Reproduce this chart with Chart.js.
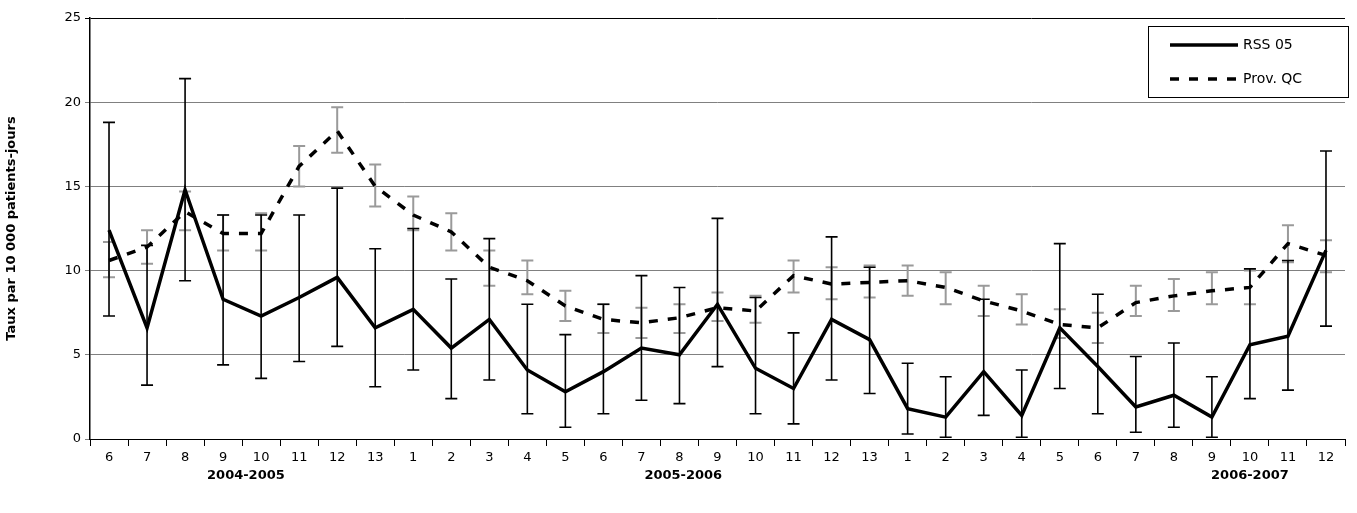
<!DOCTYPE html>
<html><head><meta charset="utf-8">
<script src="https://cdn.jsdelivr.net/npm/chart.js@4"></script>
<style>html,body{margin:0;padding:0;background:#fff}#w{width:1357px;height:513px}</style>
</head><body><div id="w"><canvas id="c"></canvas></div>
<script>
const categories = ['6','7','8','9','10','11','12','13','1','2','3','4','5','6','7','8','9','10','11','12','13','1','2','3','4','5','6','7','8','9','10','11','12'];
const yearLabels = ['2004-2005','2005-2006','2006-2007'];
const yearCenters = [3.6, 15.1, 30.0];
const rssValues = [12.4,6.6,14.8,8.3,7.3,8.4,9.6,6.6,7.7,5.4,7.1,4.1,2.8,4.0,5.4,5.0,8.0,4.2,3.0,7.1,5.9,1.8,1.3,4.0,1.4,6.6,4.3,1.9,2.6,1.3,5.6,6.1,11.2];
const rssLow = [7.3,3.2,9.4,4.4,3.6,4.6,5.5,3.1,4.1,2.4,3.5,1.5,0.7,1.5,2.3,2.1,4.3,1.5,0.9,3.5,2.7,0.3,0.1,1.4,0.1,3.0,1.5,0.4,0.7,0.1,2.4,2.9,6.7];
const rssHigh = [18.8,11.5,21.4,13.3,13.3,13.3,14.9,11.3,12.5,9.5,11.9,8.0,6.2,8.0,9.7,9.0,13.1,8.4,6.3,12.0,10.2,4.5,3.7,8.3,4.1,11.6,8.6,4.9,5.7,3.7,10.1,10.6,17.1];
const qcValues = [10.6,11.4,13.5,12.2,12.2,16.2,18.3,15.0,13.3,12.3,10.2,9.4,7.9,7.1,6.9,7.2,7.8,7.6,9.7,9.2,9.3,9.4,9.0,8.2,7.6,6.8,6.6,8.1,8.5,8.8,9.0,11.6,10.9];
const qcLow = [9.6,10.4,12.4,11.2,11.2,15.0,17.0,13.8,12.4,11.2,9.1,8.6,7.0,6.3,6.0,6.3,7.0,6.9,8.7,8.3,8.4,8.5,8.0,7.3,6.8,6.0,5.7,7.3,7.6,8.0,8.0,10.5,9.9];
const qcHigh = [11.7,12.4,14.7,13.3,13.4,17.4,19.7,16.3,14.4,13.4,11.2,10.6,8.8,8.0,7.8,8.0,8.7,8.5,10.6,10.2,10.3,10.3,9.9,9.1,8.6,7.7,7.5,9.1,9.5,9.9,10.0,12.7,11.8];
const yTicks = [0,5,10,15,20,25];

const FONT = '"DejaVu Sans", Lato, sans-serif';

const errPlugin = {
  id:'err',
  beforeDatasetsDraw(chart){
    const {ctx, scales:{x,y}} = chart;
    const sets = [[qcLow,qcHigh,'#9a9a9a',2],[rssLow,rssHigh,'#000',1.6]];
    ctx.save();
    for (const [lo,hi,col,w] of sets){
      ctx.strokeStyle=col; ctx.lineWidth=w;
      for (let i=0;i<lo.length;i++){
        const px=x.getPixelForValue(i), a=y.getPixelForValue(lo[i]), b=y.getPixelForValue(hi[i]);
        ctx.beginPath();
        ctx.moveTo(px,a);ctx.lineTo(px,b);
        ctx.moveTo(px-6,a);ctx.lineTo(px+6,a);
        ctx.moveTo(px-6,b);ctx.lineTo(px+6,b);
        ctx.stroke();
      }
    }
    ctx.restore();
  },
  afterDraw(chart){
    const {ctx, scales:{x,y}} = chart;
    ctx.save();
    ctx.font='bold 13px '+FONT; ctx.fillStyle='#000'; ctx.textAlign='center'; ctx.textBaseline='middle';
    yearLabels.forEach((t,k)=>ctx.fillText(t, x.getPixelForValue(yearCenters[k]), 476));
    const lx=1148, ly=26, lw=200, lh=71;
    ctx.fillStyle='#fff'; ctx.fillRect(lx,ly,lw,lh);
    ctx.strokeStyle='#000'; ctx.lineWidth=1; ctx.strokeRect(lx+0.5,ly+0.5,lw,lh);
    ctx.font='14px '+FONT; ctx.textAlign='left';
    chart.data.datasets.forEach((d,k)=>{
      const yy = ly+19+k*34;
      ctx.strokeStyle='#000'; ctx.lineWidth=d.borderWidth; ctx.setLineDash(d.borderDash||[]);
      ctx.beginPath(); ctx.moveTo(1170,yy); ctx.lineTo(1238,yy); ctx.stroke();
      ctx.setLineDash([]);
      ctx.fillStyle='#000'; ctx.fillText(d.label, 1243, yy);
    });
    ctx.restore();
  }
};

new Chart(document.getElementById('c'), {
  type:'line',
  data:{labels:categories, datasets:[
    {label:'RSS 05', data:rssValues, borderColor:'#000', borderWidth:3.5, pointRadius:0, tension:0},
    {label:'Prov. QC', data:qcValues, borderColor:'#000', borderWidth:3.5, borderDash:[9,10], pointRadius:0, tension:0}
  ]},
  options:{
    responsive:true, maintainAspectRatio:false, animation:false,
    layout:{padding:{left:4,right:12,top:18,bottom:0}},
    plugins:{legend:{display:false}, tooltip:{enabled:false}},
    scales:{
      x:{offset:true,
        grid:{offset:true, drawOnChartArea:false, tickLength:7, color:'#000'},
        border:{color:'#000', width:1},
        ticks:{font:{family:FONT,size:13}, color:'#000', maxRotation:0, autoSkip:false, padding:4},
        afterFit(s){s.height=74;}
      },
      y:{min:0,max:25,
        afterBuildTicks(s){s.ticks=yTicks.map(v=>({value:v}));},
        grid:{color:c=>c.tick.value===25?'#000':'#808080', lineWidth:1, tickLength:5},
        border:{color:'#000', width:1.5},
        ticks:{font:{family:FONT,size:13}, color:'#000', padding:4},
        title:{display:true, text:'Taux par 10 000 patients-jours', font:{family:FONT,size:13,weight:'bold'}, color:'#000', padding:{top:0,bottom:12}},
        afterFit(s){s.width=86;}
      }
    }
  },
  plugins:[errPlugin]
});
</script></body></html>
